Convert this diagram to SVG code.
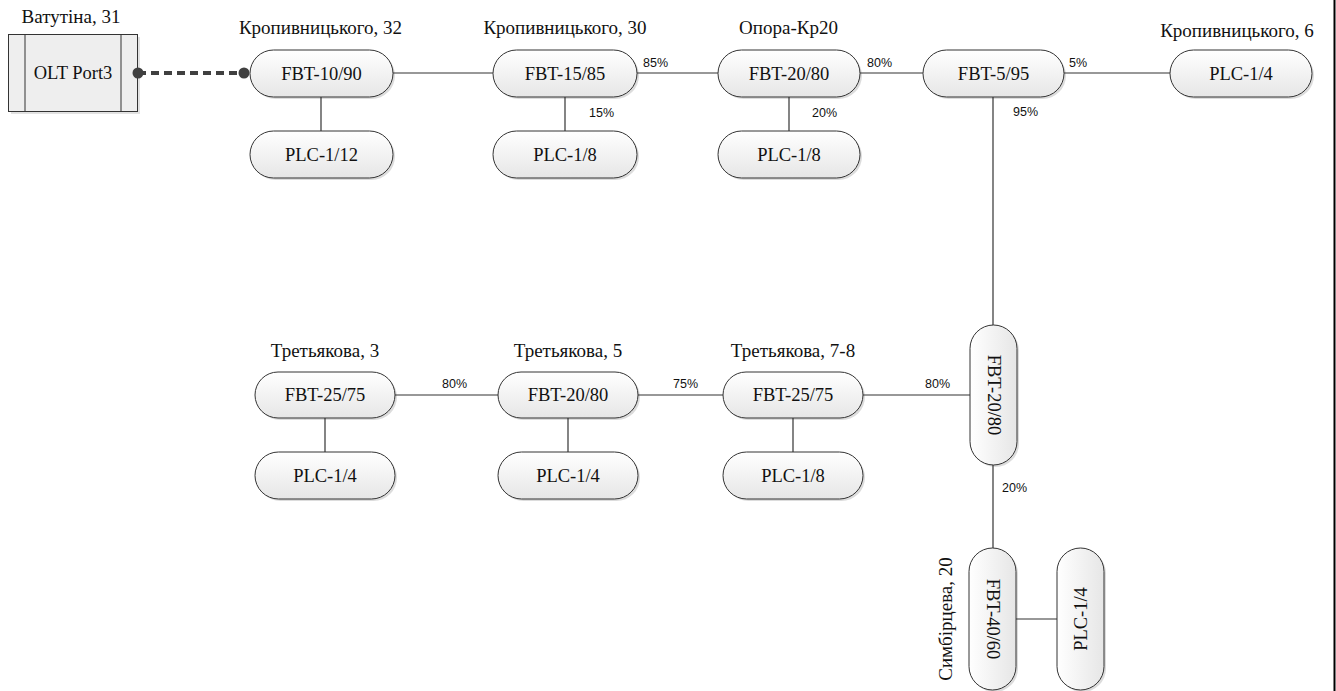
<svg xmlns="http://www.w3.org/2000/svg" width="1336" height="691" viewBox="0 0 1336 691">
  <style>
    .pill { fill: url(#nodeFill); stroke: #333; stroke-width: 1; }
    .shadow { fill: #c4c4c4; opacity: 0.6; }
    .name { font-family: 'Liberation Serif', 'DejaVu Serif', serif; font-size: 18.5px; fill: #111; text-anchor: middle; dominant-baseline: central; }
    .addr { font-family: 'Liberation Serif', 'DejaVu Serif', serif; font-size: 19px; fill: #111; text-anchor: middle; }
    .pct { font-family: 'Liberation Sans', Arial, sans-serif; font-size: 12.5px; fill: #111; }
    .link { stroke: #333; stroke-width: 1.2; fill: none; }
  </style>
  <defs>
    <linearGradient id="nodeFill" x1="0" y1="0" x2="0" y2="1">
      <stop offset="0" stop-color="#ffffff"/>
      <stop offset="1" stop-color="#e6e6e6"/>
    </linearGradient>
    <linearGradient id="nodeFillV" x1="0" y1="0" x2="1" y2="0">
      <stop offset="0" stop-color="#ffffff"/>
      <stop offset="1" stop-color="#e6e6e6"/>
    </linearGradient>
  </defs>

  <rect width="1336" height="691" fill="#ffffff"/>
  <!-- frame edge -->
  <line x1="1334.5" y1="0" x2="1334.5" y2="691" stroke="#000" stroke-width="2"/>

  <!-- OLT -->
  <g id="olt">
    <rect x="11" y="37" width="129" height="77" fill="#cfcfcf" opacity="0.6"/>
    <rect x="8.5" y="34.5" width="129" height="77" fill="#eeeeee" stroke="#333"/>
    <line x1="25" y1="34.5" x2="25" y2="111.5" stroke="#333"/>
    <line x1="121" y1="34.5" x2="121" y2="111.5" stroke="#333"/>
    <text class="name" x="73" y="73">OLT Port3</text>
    <text class="addr" x="71" y="23">Ватутіна, 31</text>
  </g>

  <!-- top row -->
  <g id="fbt-10-90">
    <rect class="shadow" x="252" y="52" width="143" height="47" rx="23.5"/>
    <rect class="pill" x="250" y="50" width="143" height="47" rx="23.5"/>
    <text class="name" x="321.5" y="73.5">FBT-10/90</text>
    <text class="addr" x="320.5" y="34">Кропивницького, 32</text>
  </g>
  <g id="plc-1-12">
    <rect class="shadow" x="252" y="133" width="143" height="47" rx="23.5"/>
    <rect class="pill" x="250" y="131" width="143" height="47" rx="23.5"/>
    <text class="name" x="321.5" y="154.5">PLC-1/12</text>
  </g>

  <g id="fbt-15-85">
    <rect class="shadow" x="495" y="52" width="144" height="47" rx="23.5"/>
    <rect class="pill" x="493" y="50" width="144" height="47" rx="23.5"/>
    <text class="name" x="565" y="73.5">FBT-15/85</text>
    <text class="addr" x="565" y="34">Кропивницького, 30</text>
  </g>
  <g id="plc-1-8-a">
    <rect class="shadow" x="495" y="133" width="144" height="47" rx="23.5"/>
    <rect class="pill" x="493" y="131" width="144" height="47" rx="23.5"/>
    <text class="name" x="565" y="154.5">PLC-1/8</text>
  </g>

  <g id="fbt-20-80-a">
    <rect class="shadow" x="720" y="52" width="142" height="47" rx="23.5"/>
    <rect class="pill" x="718" y="50" width="142" height="47" rx="23.5"/>
    <text class="name" x="789" y="73.5">FBT-20/80</text>
    <text class="addr" x="788.5" y="34">Опора-Кр20</text>
  </g>
  <g id="plc-1-8-b">
    <rect class="shadow" x="720" y="133" width="142" height="47" rx="23.5"/>
    <rect class="pill" x="718" y="131" width="142" height="47" rx="23.5"/>
    <text class="name" x="789" y="154.5">PLC-1/8</text>
  </g>

  <g id="fbt-5-95">
    <rect class="shadow" x="925" y="52" width="141" height="47" rx="23.5"/>
    <rect class="pill" x="923" y="50" width="141" height="47" rx="23.5"/>
    <text class="name" x="993.5" y="73.5">FBT-5/95</text>
  </g>
  <g id="plc-1-4-a">
    <rect class="shadow" x="1172" y="52" width="142" height="47" rx="23.5"/>
    <rect class="pill" x="1170" y="50" width="142" height="47" rx="23.5"/>
    <text class="name" x="1241" y="73.5">PLC-1/4</text>
    <text class="addr" x="1237" y="37">Кропивницького, 6</text>
  </g>

  <!-- vertical splitters -->
  <g id="fbt-20-80-v">
    <rect class="shadow" x="972" y="327" width="47" height="140" rx="23.5"/>
    <rect x="970" y="325" width="47" height="140" rx="23.5" fill="url(#nodeFillV)" stroke="#333"/>
    <text class="name" transform="translate(993.5 395) rotate(90)">FBT-20/80</text>
  </g>
  <g id="fbt-40-60">
    <rect class="shadow" x="971" y="550" width="47" height="142" rx="23.5"/>
    <rect x="969" y="548" width="47" height="142" rx="23.5" fill="url(#nodeFillV)" stroke="#333"/>
    <text class="name" transform="translate(992.5 619) rotate(90)">FBT-40/60</text>
    <text class="addr" dominant-baseline="central" transform="translate(945 619) rotate(-90)">Симбірцева, 20</text>
  </g>
  <g id="plc-1-4-v">
    <rect class="shadow" x="1059" y="550" width="47" height="142" rx="23.5"/>
    <rect x="1057" y="548" width="47" height="142" rx="23.5" fill="url(#nodeFillV)" stroke="#333"/>
    <text class="name" transform="translate(1080.5 619) rotate(-90)">PLC-1/4</text>
  </g>

  <!-- bottom row -->
  <g id="fbt-25-75-a">
    <rect class="shadow" x="257" y="374" width="140" height="46" rx="23"/>
    <rect class="pill" x="255" y="372" width="140" height="46" rx="23"/>
    <text class="name" x="325" y="395">FBT-25/75</text>
    <text class="addr" x="325" y="357">Третьякова, 3</text>
  </g>
  <g id="plc-1-4-b">
    <rect class="shadow" x="257" y="454" width="140" height="47" rx="23.5"/>
    <rect class="pill" x="255" y="452" width="140" height="47" rx="23.5"/>
    <text class="name" x="325" y="475.5">PLC-1/4</text>
  </g>

  <g id="fbt-20-80-b">
    <rect class="shadow" x="500" y="374" width="140" height="46" rx="23"/>
    <rect class="pill" x="498" y="372" width="140" height="46" rx="23"/>
    <text class="name" x="568" y="395">FBT-20/80</text>
    <text class="addr" x="568" y="357">Третьякова, 5</text>
  </g>
  <g id="plc-1-4-c">
    <rect class="shadow" x="500" y="454" width="140" height="47" rx="23.5"/>
    <rect class="pill" x="498" y="452" width="140" height="47" rx="23.5"/>
    <text class="name" x="568" y="475.5">PLC-1/4</text>
  </g>

  <g id="fbt-25-75-b">
    <rect class="shadow" x="725" y="374" width="140" height="46" rx="23"/>
    <rect class="pill" x="723" y="372" width="140" height="46" rx="23"/>
    <text class="name" x="793" y="395">FBT-25/75</text>
    <text class="addr" x="793" y="357">Третьякова, 7-8</text>
  </g>
  <g id="plc-1-8-c">
    <rect class="shadow" x="725" y="454" width="140" height="47" rx="23.5"/>
    <rect class="pill" x="723" y="452" width="140" height="47" rx="23.5"/>
    <text class="name" x="793" y="475.5">PLC-1/8</text>
  </g>

  <!-- connectors -->
  <g id="connectors">
    <line class="link" x1="393" y1="73" x2="493" y2="73"/>
    <line class="link" x1="637" y1="73" x2="718" y2="73"/>
    <line class="link" x1="860" y1="73" x2="923" y2="73"/>
    <line class="link" x1="1064" y1="73" x2="1170" y2="73"/>
    <line class="link" x1="321" y1="97" x2="321" y2="131"/>
    <line class="link" x1="565" y1="97" x2="565" y2="131"/>
    <line class="link" x1="789" y1="97" x2="789" y2="131"/>
    <line class="link" x1="993" y1="97" x2="993" y2="325"/>
    <line class="link" x1="993" y1="465" x2="993" y2="548"/>
    <line class="link" x1="1016" y1="619" x2="1057" y2="619"/>
    <line class="link" x1="395" y1="395" x2="498" y2="395"/>
    <line class="link" x1="638" y1="395" x2="723" y2="395"/>
    <line class="link" x1="863" y1="395" x2="970" y2="395"/>
    <line class="link" x1="325" y1="418" x2="325" y2="452"/>
    <line class="link" x1="568" y1="418" x2="568" y2="452"/>
    <line class="link" x1="793" y1="418" x2="793" y2="452"/>
    <!-- feeder from OLT port -->
    <line x1="138" y1="73" x2="244" y2="73" stroke="#404040" stroke-width="4" stroke-dasharray="8,5"/>
    <circle cx="138" cy="73" r="5.5" fill="#404040"/>
    <circle cx="244" cy="73" r="5.5" fill="#404040"/>

    <text class="pct" x="643" y="67">85%</text>
    <text class="pct" x="589" y="117">15%</text>
    <text class="pct" x="867" y="67">80%</text>
    <text class="pct" x="812" y="117">20%</text>
    <text class="pct" x="1069" y="67">5%</text>
    <text class="pct" x="1013" y="116">95%</text>
    <text class="pct" x="442" y="388">80%</text>
    <text class="pct" x="673" y="388">75%</text>
    <text class="pct" x="925" y="388">80%</text>
    <text class="pct" x="1002" y="492">20%</text>
  </g>
</svg>
